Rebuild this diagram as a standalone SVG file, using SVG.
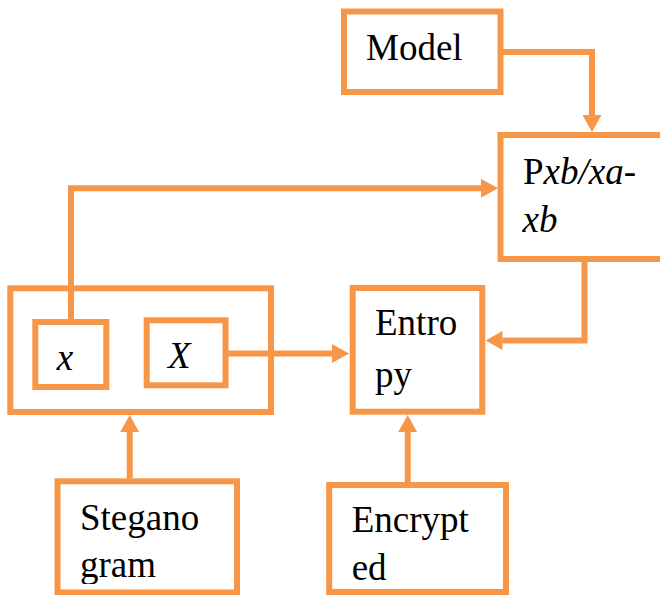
<svg xmlns="http://www.w3.org/2000/svg" width="660" height="595" viewBox="0 0 660 595">
<style>
.box{fill:#fff;stroke:#F79646;stroke-width:6}
.con{fill:none;stroke:#F79646;stroke-width:6}
.t{font-family:'Liberation Serif','Times New Roman',serif;font-size:37px;fill:#000}
.it{font-style:italic}
</style>
<defs>
<marker id="arr" markerUnits="userSpaceOnUse" viewBox="0 0 17 19" markerWidth="17" markerHeight="19" refX="0" refY="9.5" orient="auto">
<path d="M0,0 L17,9.5 L0,19 z" fill="#F79646"/>
</marker>
<clipPath id="clipS"><rect x="0" y="0" width="660" height="584"/></clipPath>
</defs>
<rect width="660" height="595" fill="#fff"/>
<g id="model">
<rect class="box" x="344" y="11.5" width="156.5" height="80.5"/>
<text class="t" x="366" y="59.5">Model</text>
</g>
<g id="pxb">
<rect class="box" x="500.5" y="135" width="170" height="124"/>
<text class="t" x="523" y="183.5">P<tspan class="it">xb/xa-</tspan></text>
<text class="t it" x="522.5" y="231.5">xb</text>
</g>
<g id="group">
<rect class="box" x="10.3" y="288.3" width="260.7" height="123.7"/>
</g>
<g id="xsmall">
<rect class="box" x="35.3" y="322" width="71" height="65"/>
<text class="t it" x="65" y="369.5" text-anchor="middle">x</text>
</g>
<g id="xbig">
<rect class="box" x="146.7" y="320.3" width="78.8" height="65"/>
<text class="t it" x="168" y="368">X</text>
</g>
<g id="entropy">
<rect class="box" x="352.7" y="288" width="129.6" height="123.7"/>
<text class="t" x="375" y="335">Entro</text>
<text class="t" x="375" y="386.7">py</text>
</g>
<g id="steganogram">
<rect class="box" x="57.5" y="481.3" width="179.5" height="111.2"/>
<g clip-path="url(#clipS)">
<text class="t" x="80" y="530">Stegano</text>
<text class="t" x="80" y="576.7">gram</text>
</g>
</g>
<g id="encrypted">
<rect class="box" x="329.2" y="485" width="176.8" height="107"/>
<text class="t" x="351.7" y="531.7">Encrypt</text>
<text class="t" x="351.7" y="580">ed</text>
</g>
<g id="connectors">
<path class="con" d="M500.5,52 H592 V115" marker-end="url(#arr)"/>
<path class="con" d="M71,322 V188.3 H481" marker-end="url(#arr)"/>
<path class="con" d="M225.5,353.5 H332" marker-end="url(#arr)"/>
<path class="con" d="M584.5,259 V340.5 H502.5" marker-end="url(#arr)"/>
<path class="con" d="M129.7,478.3 V432" marker-end="url(#arr)"/>
<path class="con" d="M407.7,482 V432" marker-end="url(#arr)"/>
</g>
</svg>
